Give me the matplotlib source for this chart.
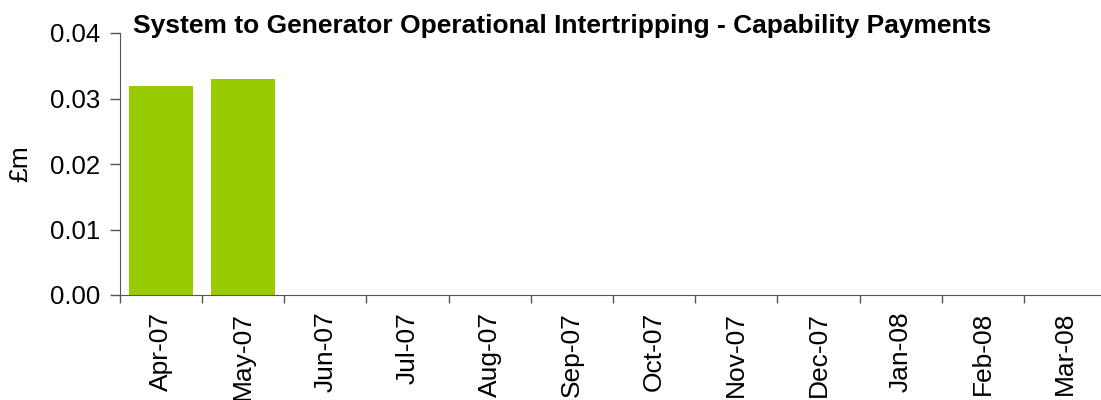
import numpy as np
import matplotlib.pyplot as plt

plt.rcParams['font.family'] = ['Liberation Sans', 'DejaVu Sans']

months = ['Apr-07', 'May-07', 'Jun-07', 'Jul-07', 'Aug-07', 'Sep-07',
          'Oct-07', 'Nov-07', 'Dec-07', 'Jan-08', 'Feb-08', 'Mar-08']
payments = [0.0319, 0.0330, 0, 0, 0, 0, 0, 0, 0, 0, 0, 0]

fig = plt.figure(figsize=(11.01, 4), dpi=100)
# axes box in pixels: left 120, right ~1106 (runs off the image), top 33, bottom 295
ax = fig.add_axes([120 / 1101, 1 - 295 / 400, 986 / 1101, 262 / 400])

x = np.arange(len(months))
ax.bar(x, payments, width=0.78, color='#99cc00')

ax.set_xlim(-0.5, len(months) - 0.5)
ax.set_ylim(0, 0.04)
ax.set_yticks([0, 0.01, 0.02, 0.03, 0.04])
ax.set_yticklabels(['0.00', '0.01', '0.02', '0.03', '0.04'], fontsize=18.5)

ax.set_xticks(np.arange(len(months) + 1) - 0.5)
ax.set_xticklabels([])
ax.set_xticks(x, minor=True)
ax.set_xticklabels(months, minor=True, rotation=90, fontsize=19)
ax.tick_params(axis='x', which='minor', length=0, pad=12)
ax.tick_params(axis='x', which='major', length=5.8, width=1, color='#555555')
ax.tick_params(axis='y', length=7.2, width=1, color='#555555', pad=7)

for s in ['top', 'right']:
    ax.spines[s].set_visible(False)
ax.spines['left'].set_color('#555555')
ax.spines['bottom'].set_color('#555555')

ax.set_ylabel('£m', fontsize=19)
ax.yaxis.set_label_coords(-88 / 986, 0.5)
fig.text(133 / 1101, 1 - 33 / 400, 'System to Generator Operational Intertripping - Capability Payments',
         fontsize=19, fontweight='bold', ha='left', va='baseline')

fig.savefig('out.png', dpi=100)
